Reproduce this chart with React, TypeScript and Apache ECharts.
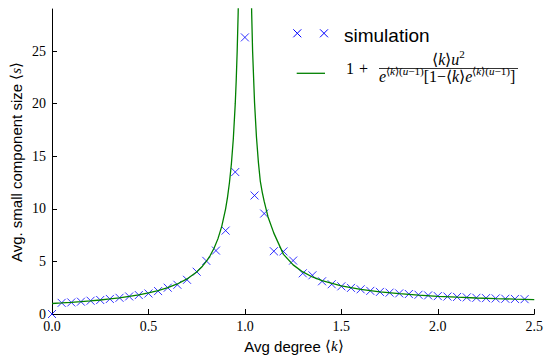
import React, { useEffect, useRef } from "react";
import * as echarts from "echarts";

// ---- data ----
const simK = [
  0, 0.05, 0.1, 0.15, 0.2, 0.25, 0.3, 0.35, 0.4, 0.45, 0.5, 0.55, 0.6, 0.65, 0.7, 0.75, 0.8, 0.85, 0.9, 0.95,
  1.0, 1.05, 1.1, 1.15, 1.2, 1.25, 1.3, 1.35, 1.4, 1.45, 1.5, 1.55, 1.6, 1.65, 1.7, 1.75, 1.8, 1.85, 1.9, 1.95,
  2.0, 2.05, 2.1, 2.15, 2.2, 2.25, 2.3, 2.35, 2.4, 2.45,
];
const simS = [
  0, 1.06, 1.1, 1.17, 1.26, 1.33, 1.43, 1.54, 1.67, 1.8, 1.95, 2.18, 2.5, 2.78, 3.25, 4.02, 5.05, 6.03, 7.93, 13.5,
  26.3, 11.27, 9.55, 5.97, 5.95, 5.08, 3.87, 3.68, 3.11, 2.83, 2.63, 2.48, 2.35, 2.2, 2.1, 2.03, 1.96, 1.9, 1.83, 1.77,
  1.7, 1.66, 1.62, 1.58, 1.54, 1.51, 1.48, 1.45, 1.43, 1.41,
];
const theoryLeftK = [
  0, 0.05, 0.1, 0.15, 0.2, 0.25, 0.3, 0.35, 0.4, 0.45, 0.5, 0.55, 0.6, 0.65, 0.7, 0.75, 0.78, 0.8, 0.82, 0.84,
  0.86, 0.88, 0.9, 0.91, 0.92, 0.93, 0.94, 0.95, 0.955, 0.96, 0.965, 0.97,
];
const theoryLeftS = [
  1.0, 1.053, 1.111, 1.176, 1.25, 1.333, 1.429, 1.538, 1.667, 1.818, 2.0, 2.222, 2.5, 2.857, 3.333, 4.0, 4.545, 5.0,
  5.556, 6.25, 7.143, 8.333, 10.0, 11.11, 12.5, 14.29, 16.67, 20.0, 22.22, 25.0, 28.57, 33.33,
];
const theoryRightK = [
  1.03, 1.035, 1.04, 1.05, 1.06, 1.07, 1.08, 1.09, 1.1, 1.12, 1.15, 1.2, 1.25, 1.3, 1.35, 1.4, 1.5, 1.6, 1.7, 1.8,
  1.9, 2.0, 2.1, 2.2, 2.3, 2.4, 2.5,
];
const theoryRightS = [
  33.6, 28.7, 24.95, 20.1, 16.8, 14.42, 12.6, 11.57, 10.7, 9.23, 7.69, 5.67, 4.67, 4.0, 3.52, 3.17, 2.67, 2.35, 2.11,
  1.93, 1.79, 1.685, 1.596, 1.522, 1.461, 1.411, 1.367,
];
const xTicks = [0, 0.5, 1.0, 1.5, 2.0, 2.5];
const yTicks = [0, 5, 10, 15, 20, 25];
const legendSim = "simulation";

const SERIF = "Liberation Serif";
const SANS = "Liberation Sans";

type Piece = { t: string; size: number; italic?: boolean; dy?: number };

let measureCtx: CanvasRenderingContext2D | null = null;
function textWidth(t: string, font: string) {
  if (!measureCtx) measureCtx = document.createElement("canvas").getContext("2d");
  measureCtx!.font = font;
  return measureCtx!.measureText(t).width;
}
function fontOf(p: Piece) {
  return `${p.italic ? "italic " : ""}${p.size}px ${SERIF}`;
}
function widthOf(pieces: Piece[]) {
  return pieces.reduce((w, p) => w + textWidth(p.t, fontOf(p)), 0);
}
function scalePieces(pieces: Piece[], s: number): Piece[] {
  return pieces.map((p) => ({ ...p, size: p.size * s, dy: (p.dy || 0) * s }));
}
function placePieces(pieces: Piece[], x0: number, baseline: number) {
  const els: any[] = [];
  let x = x0;
  for (const p of pieces) {
    const f = fontOf(p);
    els.push({
      type: "text",
      silent: true,
      style: {
        text: p.t,
        x,
        y: baseline + (p.dy || 0) - 0.34 * p.size,
        fontFamily: SERIF,
        fontSize: p.size,
        fontStyle: p.italic ? "italic" : "normal",
        fill: "#000",
        align: "left",
        verticalAlign: "middle",
      },
    });
    x += textWidth(p.t, f);
  }
  return els;
}

const LA = "\u27E8";
const RA = "\u27E9";

function supPieces(size: number, dy: number): Piece[] {
  return [
    { t: LA, size, dy },
    { t: "k", size, italic: true, dy },
    { t: RA + "(", size, dy },
    { t: "u", size, italic: true, dy },
    { t: "\u22121)", size, dy },
  ];
}

function buildFormula() {
  const M = 11.5;
  const S = 8;
  const den: Piece[] = [
    { t: "e", size: M, italic: true },
    ...supPieces(S, -5),
    { t: "[1\u2212" + LA, size: M },
    { t: "k", size: M, italic: true },
    { t: RA, size: M },
    { t: "e", size: M, italic: true },
    ...supPieces(S, -5),
    { t: "]", size: M },
  ];
  const num: Piece[] = [
    { t: LA, size: M },
    { t: "k", size: M, italic: true },
    { t: RA, size: M },
    { t: "u", size: M, italic: true },
    { t: "2", size: S, dy: -4.5 },
  ];
  const target = 139;
  const sc = target / widthOf(den);
  const den2 = scalePieces(den, sc);
  const num2 = scalePieces(num, sc);
  const barX0 = 379;
  const barX1 = barX0 + target;
  const cx = (barX0 + barX1) / 2;
  const numW = widthOf(num2);
  const els: any[] = [];
  els.push(...placePieces([{ t: "1", size: 16 }], 346, 74));
  els.push(...placePieces([{ t: "+", size: 16 }], 359, 74));
  els.push({
    type: "line",
    silent: true,
    shape: { x1: barX0, y1: 68.5, x2: barX1, y2: 68.5 },
    style: { stroke: "#000", lineWidth: 0.8 },
  });
  els.push(...placePieces(num2, cx - numW / 2, 64.5));
  els.push(...placePieces(den2, barX0, 81.5));
  return els;
}

function cross(cx: number, cy: number, r: number) {
  return [
    {
      type: "line",
      silent: true,
      shape: { x1: cx - r, y1: cy - r, x2: cx + r, y2: cy + r },
      style: { stroke: "#0000ff", lineWidth: 1 },
    },
    {
      type: "line",
      silent: true,
      shape: { x1: cx - r, y1: cy + r, x2: cx + r, y2: cy - r },
      style: { stroke: "#0000ff", lineWidth: 1 },
    },
  ];
}

export default function App() {
  const ref = useRef<HTMLDivElement>(null);
  useEffect(() => {
    if (!ref.current) return;
    const chart = echarts.init(ref.current, undefined, { renderer: "svg" });
    const axisLabelStyle = { color: "#000", fontFamily: SERIF, fontSize: 14 };
    const option: any = {
      animation: false,
      backgroundColor: "#fff",
      grid: { left: 52, right: 10, top: 9, bottom: 42, containLabel: false },
      xAxis: {
        type: "value",
        min: 0,
        max: 2.5,
        interval: 0.5,
        splitLine: { show: false },
        axisLine: { show: true, onZero: false, lineStyle: { color: "#000", width: 1 } },
        axisTick: { show: true, inside: true, length: 5, lineStyle: { color: "#000" }, customValues: xTicks },
        axisLabel: {
          ...axisLabelStyle,
          margin: 5,
          customValues: xTicks,
          formatter: (v: number) => v.toFixed(1),
        },
      },
      yAxis: {
        type: "value",
        min: 0,
        max: 29,
        splitLine: { show: false },
        axisLine: { show: true, onZero: false, lineStyle: { color: "#000", width: 1 } },
        axisTick: { show: true, inside: true, length: 5, lineStyle: { color: "#000" }, customValues: yTicks },
        axisLabel: { ...axisLabelStyle, margin: 6, customValues: yTicks, formatter: (v: number) => String(v) },
      },
      series: [
        {
          type: "scatter",
          silent: true,
          clip: true,
          symbol: "path://M0,0L10,10M0,10L10,0",
          symbolSize: 8,
          itemStyle: { color: "none", borderColor: "#0000ff", borderWidth: 1 },
          data: simK.map((k, i) => [k, simS[i]]),
        },
        {
          type: "line",
          silent: true,
          clip: true,
          showSymbol: false,
          symbol: "none",
          lineStyle: { color: "#008000", width: 1.3 },
          data: theoryLeftK.map((k, i) => [k, theoryLeftS[i]]),
        },
        {
          type: "line",
          silent: true,
          clip: true,
          showSymbol: false,
          symbol: "none",
          lineStyle: { color: "#008000", width: 1.3 },
          data: theoryRightK.map((k, i) => [k, theoryRightS[i]]),
        },
      ],
      graphic: [
        {
          type: "text",
          silent: true,
          style: {
            x: 294,
            y: 346,
            align: "center",
            verticalAlign: "middle",
            text: "{a|Avg degree }{m|" + LA + "}{i|k}{m|" + RA + "}",
            rich: {
              a: { fontFamily: SANS, fontSize: 15, fill: "#000" },
              m: { fontFamily: SERIF, fontSize: 15, fill: "#000" },
              i: { fontFamily: SERIF, fontSize: 15, fontStyle: "italic", fill: "#000" },
            },
          },
        },
        {
          type: "text",
          silent: true,
          x: 16,
          y: 162,
          rotation: Math.PI / 2,
          style: {
            x: 0,
            y: 0,
            align: "center",
            verticalAlign: "middle",
            text: "{a|Avg. small component size }{m|" + LA + "}{i|s}{m|" + RA + "}",
            rich: {
              a: { fontFamily: SANS, fontSize: 15, fill: "#000" },
              m: { fontFamily: SERIF, fontSize: 15, fill: "#000" },
              i: { fontFamily: SERIF, fontSize: 15, fontStyle: "italic", fill: "#000" },
            },
          },
        },
        ...cross(297.3, 33.3, 4),
        ...cross(324, 33.3, 4),
        {
          type: "text",
          silent: true,
          style: {
            x: 344,
            y: 35,
            text: legendSim,
            fontFamily: SANS,
            fontSize: 19,
            fill: "#000",
            align: "left",
            verticalAlign: "middle",
          },
        },
        {
          type: "line",
          silent: true,
          shape: { x1: 296.7, y1: 73.3, x2: 325, y2: 73.3 },
          style: { stroke: "#008000", lineWidth: 1.3 },
        },
        ...buildFormula(),
      ],
    };
    chart.setOption(option);
    return () => chart.dispose();
  }, []);
  return (
    <div
      ref={ref}
      style={{ position: "fixed", left: 0, top: 0, width: 546, height: 356, background: "#fff" }}
    />
  );
}
